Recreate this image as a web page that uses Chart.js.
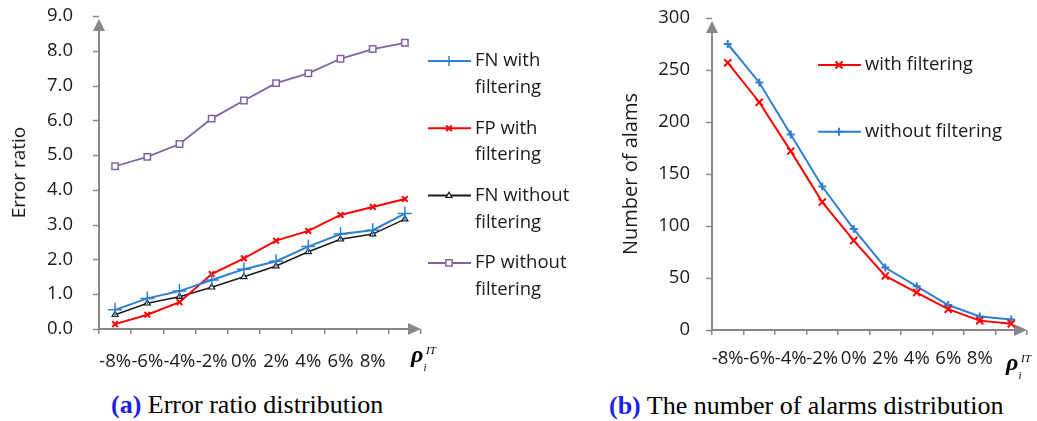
<!DOCTYPE html>
<html>
<head>
<meta charset="utf-8">
<script src="https://cdn.jsdelivr.net/npm/chart.js@4.4.1/dist/chart.umd.min.js"></script>
<style>
    html, body { margin: 0; padding: 0; background: #fff; }
    body { width: 1037px; height: 421px; position: relative; overflow: hidden; }
    #error-chart { position: absolute; left: 0; top: 0; }
    #alarm-chart { position: absolute; left: 600px; top: 0; }
    .caption {
        position: absolute;
        font-family: 'Liberation Serif', 'Times New Roman', serif;
        font-size: 26px;
        line-height: 26px;
        color: #000;
        white-space: nowrap;
    }
    .caption b { color: #1f1fe6; }
</style>
</head>
<body>
<canvas id="error-chart" width="600" height="380"></canvas>
<canvas id="alarm-chart" width="437" height="380"></canvas>
<div class="caption" style="left:111px; top:392px;"><b>(a)</b> Error ratio distribution</div>
<div class="caption" style="left:609px; top:393px;"><b>(b)</b> The number of alarms distribution</div>
<script>
// x categories (10th point has no label, the rho symbol sits there)
const categories = ['-8%', '-6%', '-4%', '-2%', '0%', '2%', '4%', '6%', '8%', ''];

// (a) error ratio
const fnWithFiltering = [0.55, 0.88, 1.09, 1.41, 1.72, 1.95, 2.37, 2.73, 2.84, 3.32];
const fpWithFiltering = [0.14, 0.41, 0.77, 1.58, 2.03, 2.54, 2.82, 3.28, 3.51, 3.74];
const fnWithoutFiltering = [0.41, 0.74, 0.93, 1.20, 1.50, 1.81, 2.22, 2.58, 2.73, 3.16];
const fpWithoutFiltering = [4.68, 4.95, 5.32, 6.05, 6.57, 7.07, 7.35, 7.77, 8.05, 8.23];
const errorLegend = [['FN with', 'filtering'], ['FP with', 'filtering'], ['FN without', 'filtering'], ['FP without', 'filtering']];

// (b) number of alarms
const alarmsWithFiltering = [257, 219, 172, 123, 86, 52, 36, 20, 9, 6];
const alarmsWithoutFiltering = [275, 238, 188, 138, 97, 60, 42, 24, 13, 10];
const alarmLegend = [['with filtering'], ['without filtering']];

const AXIS_GREY = '#888888';
const TEXT = '#1a1a1a';
const BLUE = '#2f7fcf';
const RED = '#ff0000';
const BLACK = '#1a1a1a';
const PURPLE = '#8064a2';

Chart.defaults.font.family = "'Open Sans', sans-serif";
Chart.defaults.font.size = 18.5;
Chart.defaults.color = TEXT;

// axis lines with arrow heads, y tick marks, the wrapped legend and the rho label
const axisDecor = {
    id: 'axisDecor',
    beforeDatasetsDraw: function(chart) {
        const ctx = chart.ctx;
        const a = chart.chartArea;
        const yScale = chart.scales.y;
        ctx.save();
        ctx.strokeStyle = AXIS_GREY;
        ctx.fillStyle = AXIS_GREY;
        ctx.lineWidth = 1.5;
        yScale.ticks.forEach(function(t) {
            const py = Math.round(yScale.getPixelForValue(t.value)) + 0.5;
            ctx.beginPath();
            ctx.moveTo(a.left - 6, py);
            ctx.lineTo(a.left, py);
            ctx.stroke();
        });
        ctx.lineWidth = 2;
        ctx.beginPath();
        ctx.moveTo(a.left, a.top + 14);
        ctx.lineTo(a.left, a.bottom);
        ctx.lineTo(a.right - 12, a.bottom);
        ctx.stroke();
        ctx.beginPath();
        ctx.moveTo(a.left, a.top + 3);
        ctx.lineTo(a.left - 6, a.top + 15);
        ctx.lineTo(a.left + 6, a.top + 15);
        ctx.closePath();
        ctx.fill();
        ctx.beginPath();
        ctx.moveTo(a.right, a.bottom);
        ctx.lineTo(a.right - 13, a.bottom - 6);
        ctx.lineTo(a.right - 13, a.bottom + 6);
        ctx.closePath();
        ctx.fill();
        ctx.restore();
    },
    afterDraw: function(chart, args, opts) {
        const ctx = chart.ctx;
        ctx.save();
        chart.data.datasets.forEach(function(ds, i) {
            const y = opts.legendY + i * opts.legendGap;
            ctx.strokeStyle = ds.borderColor;
            ctx.lineWidth = 2;
            ctx.beginPath();
            ctx.moveTo(opts.legendX, y);
            ctx.lineTo(opts.legendX + 43, y);
            ctx.stroke();
            ctx.fillStyle = ds.pointBackgroundColor || ds.borderColor;
            ctx.lineWidth = ds.pointBorderWidth;
            Chart.helpers.drawPoint(ctx, {
                pointStyle: ds.pointStyle,
                radius: ds.legendRadius || ds.pointRadius,
                borderWidth: ds.pointBorderWidth,
                rotation: 0
            }, opts.legendX + 21, y);
            ctx.fillStyle = TEXT;
            ctx.font = "18.5px 'Open Sans', sans-serif";
            ctx.textBaseline = 'middle';
            ctx.textAlign = 'left';
            opts.legendText[i].forEach(function(line, j) {
                ctx.fillText(line, opts.legendX + 47, y + j * 26.7);
            });
        });
        // rho_i^IT at the end of the x axis
        const rx = opts.rhoX;
        const ry = opts.rhoY;
        ctx.fillStyle = '#000';
        ctx.textBaseline = 'alphabetic';
        ctx.font = "bold italic 24px 'Liberation Serif', serif";
        ctx.fillText('\u03c1', rx, ry);
        ctx.font = "italic 11px 'Liberation Serif', serif";
        ctx.fillText('IT', rx + 15, ry - 8);
        ctx.fillText('i', rx + 12.5, ry + 9);
        ctx.restore();
    }
};

function makeLine(label, data, color, style, radius, extra) {
    const ds = {
        label: label,
        data: data,
        borderColor: color,
        borderWidth: 2,
        pointStyle: style,
        pointRadius: radius,
        pointHoverRadius: radius,
        pointBorderColor: color,
        pointBackgroundColor: color,
        pointBorderWidth: 1.5,
        tension: 0,
        clip: false
    };
    return Object.assign(ds, extra || {});
}

function makeOptions(cfg) {
    return {
        responsive: false,
        animation: false,
        layout: { padding: cfg.padding },
        plugins: {
            legend: { display: false },
            tooltip: { enabled: false },
            axisDecor: cfg.decor
        },
        scales: {
            x: {
                type: 'category',
                offset: true,
                border: { display: false },
                grid: {
                    offset: true,
                    drawOnChartArea: false,
                    color: AXIS_GREY,
                    lineWidth: 1.5,
                    tickLength: 5
                },
                ticks: {
                    autoSkip: false,
                    maxRotation: 0,
                    minRotation: 0,
                    padding: cfg.xPad,
                    color: TEXT
                },
                afterFit: function(scale) { scale.height = cfg.xHeight; }
            },
            y: {
                min: cfg.yMin,
                max: cfg.yMax,
                border: { display: false },
                // tick marks are drawn by the plugin; tickLength only pushes the labels left
                grid: {
                    drawOnChartArea: false,
                    color: 'rgba(0,0,0,0)',
                    tickLength: cfg.yGap
                },
                ticks: {
                    stepSize: cfg.yStep,
                    padding: 0,
                    color: TEXT,
                    callback: cfg.yFormat
                },
                title: {
                    display: true,
                    text: cfg.yTitle,
                    color: TEXT,
                    font: { size: cfg.titleSize },
                    padding: { top: cfg.titlePad, bottom: 0 }
                },
                afterFit: function(scale) { scale.width = cfg.yWidth; }
            }
        }
    };
}

new Chart(document.getElementById('error-chart'), {
    type: 'line',
    data: {
        labels: categories,
        datasets: [
            makeLine('FN with filtering', fnWithFiltering, BLUE, 'cross', 7, { legendRadius: 5 }),
            makeLine('FP with filtering', fpWithFiltering, RED, 'crossRot', 4, { pointBorderWidth: 2 }),
            makeLine('FN without filtering', fnWithoutFiltering, BLACK, 'triangle', 3.5, { pointBackgroundColor: '#ffffff', pointBorderWidth: 1.2, borderWidth: 1.5 }),
            makeLine('FP without filtering', fpWithoutFiltering, PURPLE, 'rect', 4.5, { pointBackgroundColor: '#ffffff', pointBorderWidth: 1.5, borderWidth: 1.8 })
        ]
    },
    options: makeOptions({
        padding: { left: 0, top: 16, right: 179, bottom: 0 },
        xHeight: 51,
        xPad: 17,
        yMin: 0,
        yMax: 9,
        yStep: 1,
        yGap: 26,
        yWidth: 99,
        yTitle: 'Error ratio',
        titleSize: 19,
        titlePad: 8,
        yFormat: function(value) { return value.toFixed(1); },
        decor: { legendX: 428, legendY: 61, legendGap: 67.3, legendText: errorLegend, rhoX: 411, rhoY: 362 }
    }),
    plugins: [axisDecor]
});

new Chart(document.getElementById('alarm-chart'), {
    type: 'line',
    data: {
        labels: categories,
        datasets: [
            makeLine('with filtering', alarmsWithFiltering, RED, 'crossRot', 5, { pointBorderWidth: 2 }),
            makeLine('without filtering', alarmsWithoutFiltering, BLUE, 'cross', 4, { pointBorderWidth: 2 })
        ]
    },
    options: makeOptions({
        padding: { left: 0, top: 18, right: 10, bottom: 0 },
        xHeight: 50,
        xPad: 13,
        yMin: 0,
        yMax: 300,
        yStep: 50,
        yGap: 22,
        yWidth: 112,
        yTitle: 'Number of alams',
        titleSize: 20,
        titlePad: 19,
        yFormat: function(value) { return value; },
        decor: { legendX: 218, legendY: 65, legendGap: 66.7, legendText: alarmLegend, rhoX: 406, rhoY: 370 }
    }),
    plugins: [axisDecor]
});
</script>
</body>
</html>
